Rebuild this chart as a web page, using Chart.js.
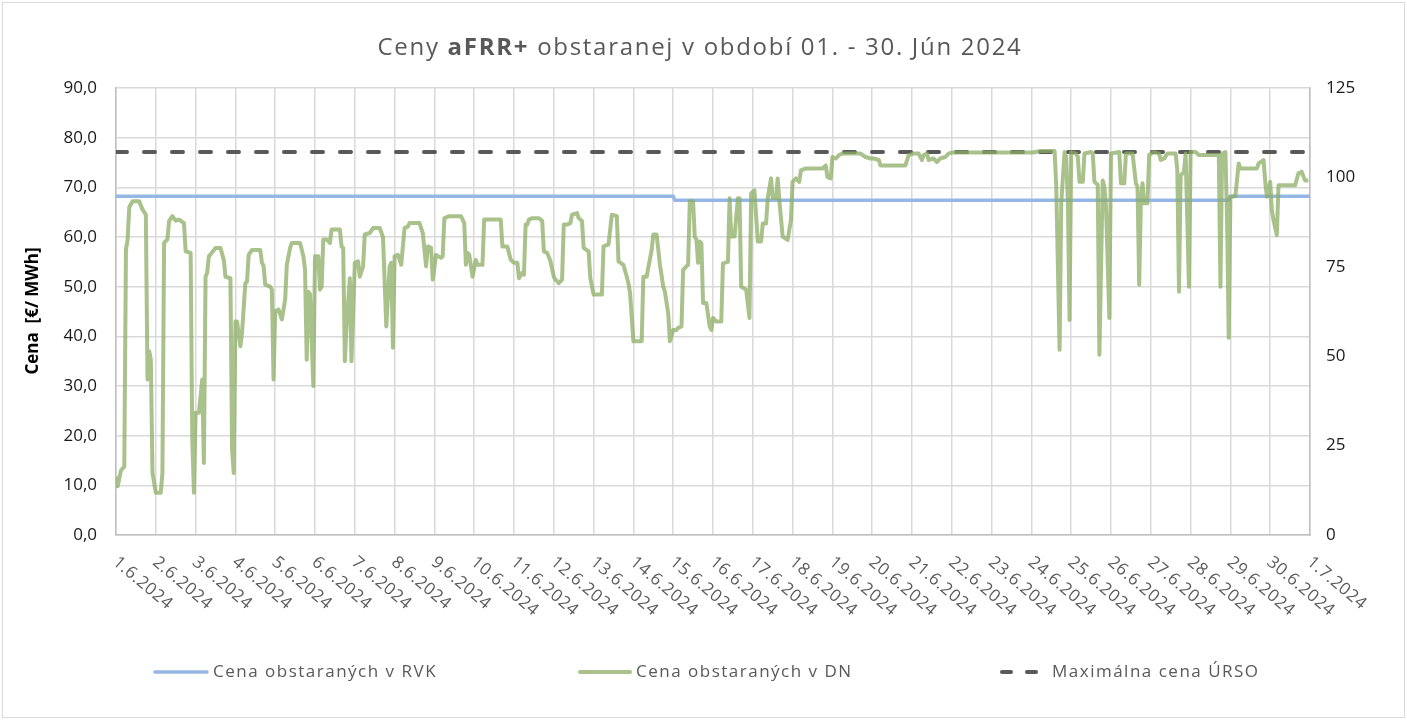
<!DOCTYPE html>
<html>
<head>
<meta charset="utf-8">
<script src="https://cdn.jsdelivr.net/npm/chart.js@4.4.1/dist/chart.umd.min.js"></script>
<style>
  html, body { margin: 0; padding: 0; background: #fff; }
</style>
</head>
<body>
<canvas id="chart" width="1407" height="720"></canvas>
<script>
const FONT = '"Open Sans", "Noto Sans", sans-serif';

// popisy osi x (dni)
const dayLabels = [
    '1.6.2024', '2.6.2024', '3.6.2024', '4.6.2024', '5.6.2024', '6.6.2024',
    '7.6.2024', '8.6.2024', '9.6.2024', '10.6.2024', '11.6.2024', '12.6.2024',
    '13.6.2024', '14.6.2024', '15.6.2024', '16.6.2024', '17.6.2024', '18.6.2024',
    '19.6.2024', '20.6.2024', '21.6.2024', '22.6.2024', '23.6.2024', '24.6.2024',
    '25.6.2024', '26.6.2024', '27.6.2024', '28.6.2024', '29.6.2024', '30.6.2024',
    '1.7.2024'
];

// hodina od 1.6.2024 00:00
const rvkHours = [0, 336, 337, 671, 672, 720];
const rvkValues = [68.2, 68.2, 67.4, 67.4, 68.2, 68.2];

const maxHours = [0, 720];
const maxValues = [77.1, 77.1];

const dnHours = [
    0, 1, 3, 5, 6, 7, 8, 10, 14, 16, 18, 19, 20, 21, 22,
    24, 27, 28, 29, 31, 32, 34, 36, 38, 41, 42, 45, 46, 47,
    48, 50, 52, 53, 54, 55, 56, 57, 60, 63, 65, 66, 69, 70, 71,
    72, 73, 75, 76, 78, 79, 80, 82, 87, 88, 89, 90, 93, 94, 95,
    96, 98, 100, 102, 103, 105, 106, 111, 113, 114, 115, 116, 117, 119,
    120, 122, 123, 124, 125, 127, 129, 130, 135, 136, 137, 138, 139, 141, 142,
    144, 146, 147, 149, 150, 153, 155, 159, 161, 163, 165, 166, 167,
    168, 170, 172, 174, 176, 177, 183, 185, 187, 188, 190, 191, 193, 196, 197, 198, 201, 208, 210, 211, 212, 213, 215, 217, 218, 221, 222, 224, 232, 233, 236, 238,
    240, 242, 243, 245, 246, 247, 248, 249, 251, 255, 257, 258, 260, 262, 264, 265, 267, 269, 270, 272, 274, 275, 278, 279, 281, 282, 285, 286, 288, 293, 294, 297, 299, 302, 303, 306, 308, 309, 310,
    312, 317, 318, 320, 323, 324, 326, 328, 330, 331, 333, 334, 336, 338, 339, 341, 342, 344, 345, 346, 348, 349, 350, 351, 352, 353, 354, 356, 358, 359,
    360, 362, 365, 366, 369, 370, 371, 373, 375, 376, 377, 380, 382, 383, 385, 387, 389, 390, 392, 393, 395, 396, 398, 399, 400, 402, 405, 407,
    408, 410, 412, 413, 416, 426, 428, 429, 431, 432, 434, 436, 438, 449, 452, 455, 457, 460, 461, 464, 476, 478, 481, 484, 486, 487, 489, 490, 493, 495, 497, 500, 502, 504,
    553, 557, 566, 567, 569, 570, 572, 573, 574, 575, 576, 579, 580, 581, 583, 584, 588, 589, 590, 592, 593, 595, 596, 597, 599,
    600, 605, 606, 608, 609, 613, 615, 616, 617, 618, 619, 620, 622, 623, 626, 629, 630, 632, 634, 639, 640, 641, 642, 644, 645, 647,
    648, 651, 653, 665, 666, 667, 669, 670, 671, 672, 675, 677, 678, 688, 689, 692, 693, 694, 696, 697, 698, 700, 701, 703, 711, 713, 715, 717, 719
];
const dnValues = [
    11.8, 9.8, 13, 13.8, 57.4, 59.5, 66, 67.2, 67.2, 65.5, 64.5, 31.3, 37, 35.3, 12.5,
    8.5, 8.5, 12.5, 58.8, 59.5, 63.2, 64.2, 63.3, 63.5, 62.8, 57.1, 56.8, 19.2, 8.5,
    24.6, 24.6, 31.3, 14.5, 52, 52.8, 56.1, 56.5, 57.8, 57.8, 55.4, 52, 51.7, 17.2, 12.5,
    43, 43, 38, 40.7, 50.7, 51, 56.4, 57.4, 57.4, 54.8, 54.2, 50.4, 50, 49.4, 31.3,
    45, 45.4, 43.4, 47.4, 54.4, 57.8, 58.8, 58.8, 56.1, 53.4, 35.3, 49, 48.5, 30,
    56.1, 56.1, 49.4, 50, 59.5, 59.5, 58.8, 61.5, 61.5, 58.1, 57.8, 35, 42, 51.7, 35,
    54.8, 55.1, 52, 54.1, 60.5, 60.8, 61.8, 61.8, 60, 42, 54.1, 54.8, 37.7,
    56.1, 56.4, 54.4, 61.8, 62.1, 62.8, 62.8, 60.8, 54.1, 58.1, 57.8, 51.4, 56.4, 55.8, 56.1, 63.8, 64.2, 64.2, 62.8, 54.4, 56.8, 56.4, 52, 55.4, 54.4, 54.4, 63.5, 63.5, 63.5, 58.1, 58.1, 55.4,
    54.8, 54.8, 51.7, 52.8, 52.4, 62.5, 62.5, 63.5, 63.8, 63.8, 63.2, 57.1, 56.8, 55.1, 52, 51.4, 50.7, 51.4, 62.5, 62.5, 62.8, 64.5, 64.8, 63.8, 63.2, 57.8, 57.1, 51.7, 48.4, 48.4, 58.1, 58.5, 64.5, 64.2, 55.1, 54.4, 52, 50.7, 48.7,
    39, 39, 52, 52, 57.4, 60.5, 60.5, 54.4, 50, 49, 44.6, 39, 41.3, 41.3, 41.7, 42, 53.4, 54.1, 54.4, 67.2, 67.2, 60, 59.5, 54.8, 59.1, 58.8, 46.7, 46.7, 42, 41.3,
    43.7, 43, 43, 54.7, 55, 67.8, 60.1, 60.1, 67.8, 67.8, 50, 49.4, 43.7, 68.8, 69.4, 59.1, 59.1, 62.7, 62.7, 67.8, 71.8, 67.8, 67.8, 71.8, 67.4, 60.1, 59.4, 63.4,
    71.1, 71.8, 71.1, 73.4, 73.8, 73.8, 74.4, 72.1, 71.8, 76.1, 75.8, 76.5, 76.8, 76.8, 76.1, 75.8, 75.8, 75.5, 74.4, 74.4, 74.4, 76.5, 76.8, 76.8, 75.5, 76.5, 76.8, 75.5, 75.8, 75.1, 75.8, 76.1, 76.8, 77,
    77, 77.3, 77.3, 70.1, 37.3, 66.8, 77.1, 76.1, 66.8, 43.3, 77.1, 76.8, 76.1, 71.1, 71.1, 76.8, 77.1, 76.8, 71.1, 70.5, 36.3, 71.4, 70.1, 66.1, 43.7,
    76.8, 77.1, 70.8, 70.8, 76.8, 76.8, 70.8, 70.1, 50.4, 66.8, 70.8, 66.8, 66.8, 76.5, 77.1, 76.8, 75.5, 75.8, 76.8, 76.8, 73.4, 49, 72.4, 73.1, 76.8, 50,
    77.1, 77.1, 76.5, 76.5, 50, 76.8, 77.1, 63.4, 39.7, 68.1, 68.2, 74.8, 73.8, 73.8, 74.8, 75.5, 71.1, 68.1, 71.1, 65.4, 63.4, 60.4, 70.4, 70.4, 70.4, 72.8, 73.1, 71.4, 71.4
];

const toPoints = (xs, ys) => xs.map((x, i) => ({ x: x, y: ys[i] }));

// nadpis, popisy osi x, titulok osi y, legenda a ramik
const decor = {
    id: 'decor',
    beforeDraw(chart) {
        const ctx = chart.ctx;
        ctx.save();
        ctx.fillStyle = '#fff';
        ctx.fillRect(0, 0, chart.width, chart.height);
        ctx.strokeStyle = '#d9d9d9';
        ctx.lineWidth = 1;
        ctx.strokeRect(2.5, 2.5, chart.width - 5, chart.height - 5);
        ctx.restore();
    },
    afterDraw(chart) {
        const ctx = chart.ctx;
        const xScale = chart.scales.x;

        // nadpis - roztiahnuty na sirku ako v Exceli
        ctx.save();
        ctx.fillStyle = '#595959';
        ctx.textBaseline = 'alphabetic';
        const parts = [['Ceny ', 'normal'], ['aFRR+', 'bold'], [' obstaranej v období 01. - 30. Jún 2024', 'normal']];
        let raw = 0, chars = 0;
        parts.forEach(([t, w]) => {
            ctx.font = `${w} 24px ${FONT}`;
            raw += ctx.measureText(t).width;
            chars += t.length;
        });
        const spacing = Math.max(0, (645 - raw) / chars);
        let cx = 700 - 645 / 2;
        parts.forEach(([t, w]) => {
            ctx.font = `${w} 24px ${FONT}`;
            for (const ch of t) {
                ctx.fillText(ch, cx, 55);
                cx += ctx.measureText(ch).width + spacing;
            }
        });
        ctx.restore();

        // titulok osi y
        ctx.save();
        ctx.translate(33, 311);
        ctx.rotate(-Math.PI / 2);
        ctx.font = `bold 17px ${FONT}`;
        ctx.fillStyle = '#000';
        ctx.textAlign = 'center';
        ctx.textBaseline = 'middle';
        ctx.fillText('Cena  [€/ MWh]', 0, 0);
        ctx.restore();

        // popisy dni
        ctx.save();
        ctx.font = `17px ${FONT}`;
        ctx.fillStyle = '#595959';
        ctx.textAlign = 'left';
        ctx.textBaseline = 'middle';
        ctx.letterSpacing = '0.6px';
        dayLabels.forEach((lbl, i) => {
            const px = xScale.getPixelForValue(i * 24);
            ctx.save();
            ctx.translate(px - 1, 560);
            ctx.rotate(40 * Math.PI / 180);
            ctx.fillText(lbl, 0, 0);
            ctx.restore();
        });
        ctx.restore();

        // legenda
        const slots = [
            { x: 155, w: 52, tx: 213 },
            { x: 580, w: 50, tx: 636 },
            { x: 1002, w: 34, tx: 1052 }
        ];
        ctx.save();
        ctx.font = `17px ${FONT}`;
        ctx.textBaseline = 'middle';
        ctx.letterSpacing = '1.5px';
        chart.data.datasets.forEach((ds, i) => {
            const s = slots[i];
            ctx.beginPath();
            ctx.strokeStyle = ds.borderColor;
            ctx.lineWidth = ds.borderWidth;
            ctx.lineCap = 'round';
            ctx.setLineDash(ds.borderDash ? [9, 16] : []);
            ctx.moveTo(s.x, 672);
            ctx.lineTo(s.x + s.w, 672);
            ctx.stroke();
            ctx.setLineDash([]);
            ctx.fillStyle = '#595959';
            ctx.fillText(ds.label, s.tx, 672);
        });
        ctx.restore();
    }
};

const gridColor = '#d9d9d9';
const axisColor = '#bfbfbf';

new Chart(document.getElementById('chart'), {
    type: 'line',
    data: {
        datasets: [{
            label: 'Cena obstaraných v RVK',
            data: toPoints(rvkHours, rvkValues),
            borderColor: '#95b7e6',
            borderWidth: 3.5,
            pointRadius: 0,
            order: 1
        }, {
            label: 'Cena obstaraných v DN',
            data: toPoints(dnHours, dnValues),
            borderColor: 'rgba(140, 172, 100, 0.75)',
            borderWidth: 4,
            borderJoinStyle: 'round',
            pointRadius: 0,
            order: 0
        }, {
            label: 'Maximálna cena ÚRSO',
            data: toPoints(maxHours, maxValues),
            borderColor: '#595959',
            borderWidth: 4,
            borderDash: [11, 17],
            borderCapStyle: 'round',
            pointRadius: 0,
            order: 2
        }]
    },
    plugins: [decor],
    options: {
        responsive: false,
        animation: false,
        layout: { padding: { top: 88, bottom: 185, left: 0, right: 0 } },
        plugins: {
            legend: { display: false },
            tooltip: { enabled: false },
            title: { display: false }
        },
        scales: {
            x: {
                type: 'linear',
                min: 0,
                max: 720,
                ticks: { stepSize: 24, display: false },
                grid: { color: gridColor, lineWidth: 1.5, drawTicks: false },
                border: { color: axisColor, width: 1.5 },
                afterFit(scale) { scale.height = 0; }
            },
            y: {
                position: 'left',
                min: 0,
                max: 90,
                ticks: {
                    stepSize: 10,
                    padding: 19,
                    color: '#1a1a1a',
                    font: { family: FONT, size: 17 },
                    callback: (v) => v.toFixed(1).replace('.', ',')
                },
                grid: { color: gridColor, lineWidth: 1.5, drawTicks: false },
                border: { color: axisColor, width: 1.5 },
                afterFit(scale) { scale.width = 116; }
            },
            y2: {
                position: 'right',
                min: 0,
                max: 125,
                ticks: {
                    stepSize: 25,
                    padding: 16,
                    color: '#1a1a1a',
                    font: { family: FONT, size: 17 }
                },
                grid: { drawOnChartArea: false, drawTicks: false },
                border: { color: axisColor, width: 1.5 },
                afterFit(scale) { scale.width = 97; }
            }
        }
    }
});
</script>
</body>
</html>
